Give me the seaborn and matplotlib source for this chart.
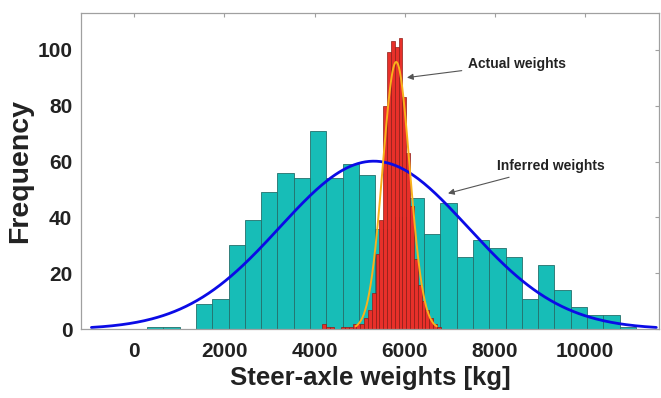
"""
Steer-axle weights: inferred vs actual (histograms + normal fits).
"""

import numpy as np
import pandas as pd
import matplotlib
matplotlib.use('Agg')
import matplotlib.pyplot as plt
import seaborn as sns

sns.set_theme(style='white')
plt.rcParams['font.family'] = ['Liberation Sans', 'DejaVu Sans']

CYAN = '#17BDB7'
CYAN_EDGE = '#24706C'
RED = '#E8302A'
RED_EDGE = '#8E1D17'
YELLOW = '#F9B21C'
BLUE = '#0B0BE6'
SPINE = '#A0A0A0'
TEXT = '#222222'

# ── Data ─────────────────────────────────────────────────────────────────────
# inferred weights: bin edges [kg] and counts
inferred_edges = [284.5 + 361.5 * k for k in range(31)]
inferred_counts = [1, 1, 0, 9, 11, 30, 39, 49, 56, 54,
                   71, 54, 59, 55, 36, 40, 47, 34, 45, 26,
                   32, 29, 26, 11, 23, 14, 8, 5, 5, 1]

# actual weights: bin edges [kg] and counts
actual_edges = [4165 + 85 * k for k in range(32)]
actual_counts = [2, 1, 1, 0, 0, 1, 1, 1, 2, 2, 2,
                 4, 7, 13, 27, 39, 80, 99, 103, 101, 104,
                 83, 63, 44, 25, 16, 10, 7, 4, 2, 1]

x_ticks = [0, 2000, 4000, 6000, 8000, 10000]
y_ticks = [0, 20, 40, 60, 80, 100]


def to_frame(edges, counts):
    e = np.asarray(edges, dtype=float)
    return pd.DataFrame({'center': (e[:-1] + e[1:]) / 2, 'count': counts})


def normal_fit(df, width):
    # same idea as MATLAB histfit: normal pdf scaled to the histogram
    n = df['count'].sum()
    mu = np.average(df['center'], weights=df['count'])
    sd = np.sqrt(np.average((df['center'] - mu) ** 2, weights=df['count']))
    xs = np.linspace(mu - 3 * sd, mu + 3 * sd, 300)
    ys = n * width / (sd * np.sqrt(2 * np.pi)) * np.exp(-0.5 * ((xs - mu) / sd) ** 2)
    return pd.DataFrame({'x': xs, 'y': ys})


inferred = to_frame(inferred_edges, inferred_counts)
actual = to_frame(actual_edges, actual_counts)
inferred_fit = normal_fit(inferred, inferred_edges[1] - inferred_edges[0])
actual_fit = normal_fit(actual, actual_edges[1] - actual_edges[0])

# ── Figure ───────────────────────────────────────────────────────────────────
fig = plt.figure(figsize=(6.61, 3.98), dpi=100)
ax = fig.add_axes([0.1221, 0.1726, 0.875, 0.794])

sns.histplot(data=inferred, x='center', weights='count', bins=inferred_edges,
             color=CYAN, edgecolor=CYAN_EDGE, linewidth=0.6, alpha=1, ax=ax)
sns.lineplot(data=inferred_fit, x='x', y='y', color=BLUE, lw=2, ax=ax)
sns.histplot(data=actual, x='center', weights='count', bins=actual_edges,
             color=RED, edgecolor=RED_EDGE, linewidth=0.5, alpha=1, ax=ax)
sns.lineplot(data=actual_fit, x='x', y='y', color=YELLOW, lw=1.4, ax=ax)

arrow = dict(arrowstyle='-|>', color='#555555', lw=0.8, mutation_scale=9,
             shrinkA=2, shrinkB=0)
ax.annotate('Actual weights', xy=(6050, 90), xytext=(7400, 95),
            ha='left', va='center', fontsize=10, fontweight='bold',
            color=TEXT, arrowprops=arrow)
ax.annotate('Inferred weights', xy=(6960, 48.6), xytext=(8045, 58.3),
            ha='left', va='center', fontsize=10, fontweight='bold',
            color=TEXT, arrowprops=arrow)

ax.set_xlim(-1190, 11645)
ax.set_ylim(0, 113)
ax.set_xticks(x_ticks)
ax.set_yticks(y_ticks)
ax.tick_params(direction='in', length=3, width=0.8, color=SPINE,
               top=True, right=True, labelsize=15)
ax.tick_params(axis='x', pad=9)
ax.tick_params(axis='y', pad=6)
for lab in ax.get_xticklabels() + ax.get_yticklabels():
    lab.set_fontweight('bold')
    lab.set_color(TEXT)
for s in ax.spines.values():
    s.set_color(SPINE)
    s.set_linewidth(0.9)

ax.set_xlabel('Steer-axle weights [kg]', fontsize=18.5, fontweight='bold',
              color=TEXT, labelpad=4)
ax.set_ylabel('Frequency', fontsize=20.5, fontweight='bold',
              color=TEXT, labelpad=3)

fig.savefig('out.png', dpi=100)
plt.close(fig)
